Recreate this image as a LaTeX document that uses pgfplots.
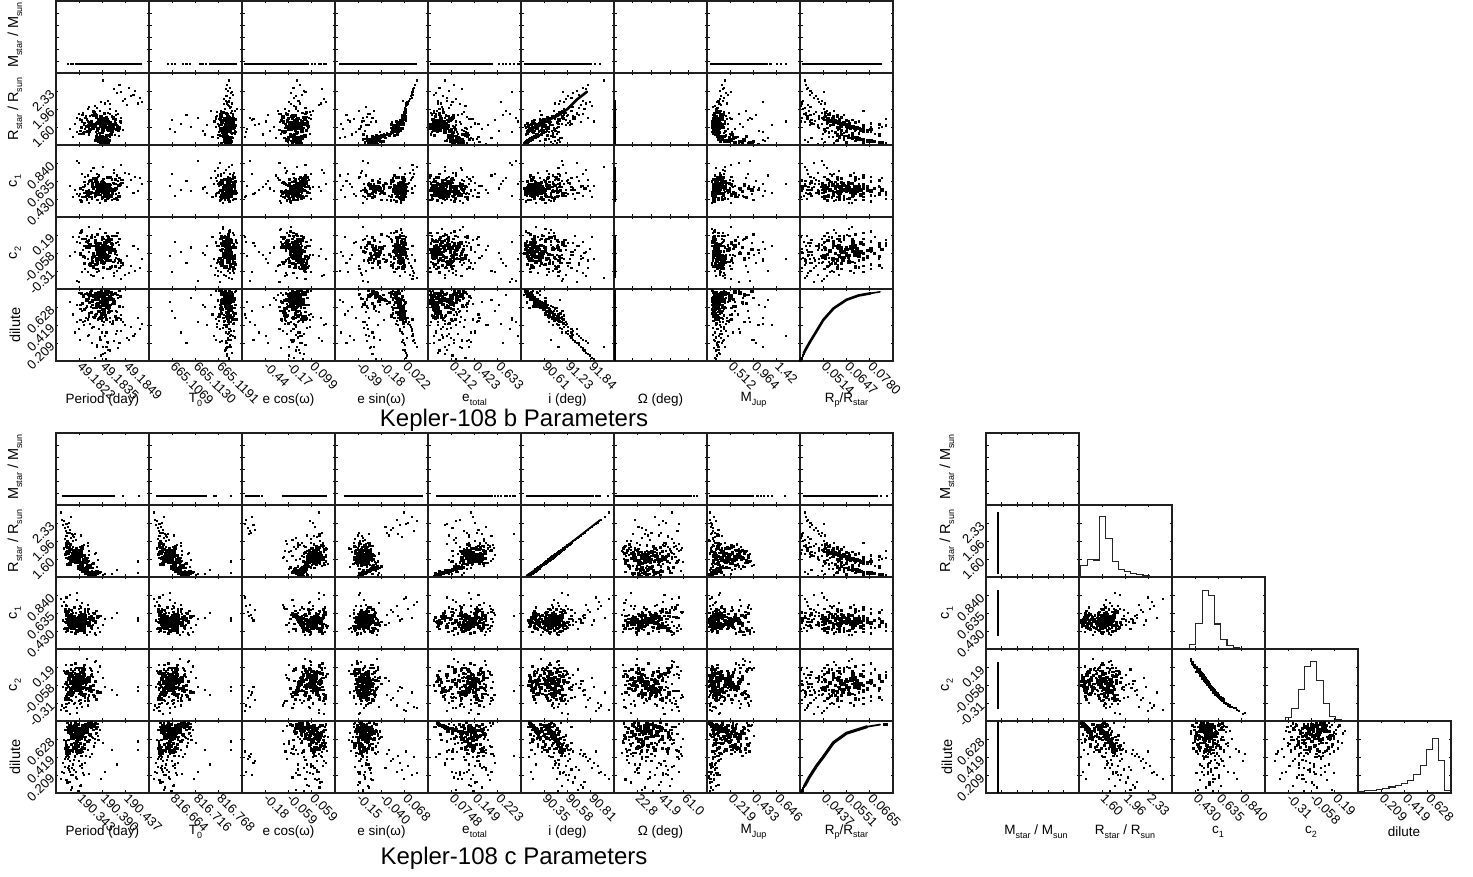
\documentclass[border=0pt]{standalone}
\usepackage{pgfplots}
\usepackage{pgfplotstable}
\usepackage{fontspec}
\setmainfont{Liberation Sans}
\pgfplotsset{compat=1.18}
\newcommand\sub[1]{\raisebox{-0.28em}{\fontsize{9}{9}\selectfont #1}}
% samples, in percent of each parameter's panel range
\pgfplotstableread{
R C1 C2 D Pb Tb Ecb Esb Etb Ib Mb Rp Pc Ecc Esc Etc Ic Oc Mc
21 38 52 91 50 85 57 65 6 9 9 65 21 77 29 46 27 33 20
23 34 60 88 45 83 55 66 9 12 11 59 19 80 26 44 29 27 16
25 41 47 84 55 87 58 67 5 14 8 53 24 74 31 50 31 40 26
27 37 55 82 48 86 60 68 12 17 10 50 17 78 33 42 33 22 22
29 44 44 80 53 84 56 69 8 19 12 47 26 82 28 52 35 45 30
26 32 65 86 42 88 54 67 14 15 7 56 22 72 30 47 32 30 14
24 39 51 89 58 82 59 66 4 12 13 61 25 76 34 49 30 36 28
28 36 57 78 51 85 62 68 10 18 9 44 20 84 27 53 34 52 24
31 42 46 76 47 87 53 70 7 22 11 42 18 79 32 45 37 34 33
33 35 58 74 56 83 57 71 11 25 8 40 23 75 25 48 39 26 20
30 46 40 79 44 86 61 69 16 20 10 46 27 81 36 51 36 42 18
22 33 62 92 36 84 50 65 13 10 12 68 16 73 30 43 28 48 27
20 38 54 93 60 85 64 64 18 8 9 72 28 77 24 55 26 28 12
27 43 45 83 49 89 55 68 5 16 14 52 21 83 29 41 33 38 31
25 31 66 87 54 81 58 67 15 13 6 57 15 78 33 54 31 55 23
23 40 49 90 40 86 52 66 11 11 10 63 24 70 27 46 29 24 19
29 37 55 81 62 84 60 69 3 19 11 49 19 85 31 50 35 46 35
32 40 50 72 52 88 56 70 8 24 9 38 22 76 35 39 38 31 25
35 45 42 69 46 85 59 72 13 27 13 35 26 80 26 44 41 40 16
26 35 59 85 33 83 49 67 17 15 8 54 13 74 28 49 32 19 21
24 42 47 88 50 87 62 66 9 12 7 59 30 79 23 57 30 50 29
28 39 53 77 57 82 54 68 6 17 12 43 17 82 37 47 34 35 34
30 34 61 75 43 86 58 69 19 21 10 41 25 71 30 42 36 29 10
22 36 56 94 55 84 53 65 7 10 8 76 20 77 32 52 28 43 22
34 38 53 66 49 85 57 71 10 26 9 32 23 84 29 46 40 37 27
37 41 48 63 53 87 60 73 14 30 11 29 19 78 31 40 43 25 32
40 36 56 60 48 84 55 74 8 34 10 27 27 75 33 48 46 44 20
27 47 38 84 39 86 51 68 21 16 15 53 16 81 28 36 33 33 38
25 29 69 86 59 83 63 67 12 14 9 56 29 76 26 44 31 47 15
31 38 52 80 45 85 56 70 6 23 7 47 21 73 34 51 37 21 24
6 37 54 94 50 84 58 42 30 7 22 76 32 62 30 14 12 33 6
9 42 46 90 47 86 55 46 26 12 16 63 28 60 36 24 15 42 9
4 33 60 96 53 82 60 40 33 6 30 85 35 64 28 11 10 26 4
11 39 52 88 51 87 57 48 24 14 13 59 26 63 40 30 17 37 12
7 45 42 92 48 85 62 38 36 9 40 68 38 59 33 18 13 47 7
13 35 57 86 54 83 53 50 22 17 11 56 24 65 44 33 19 30 14
5 40 50 95 46 88 56 44 28 6 35 80 40 61 29 12 11 20 5
8 31 64 91 52 85 59 36 35 10 26 65 30 66 35 20 14 50 8
12 48 38 83 49 84 64 47 25 15 18 52 27 57 42 35 18 39 11
3 38 55 97 56 86 54 41 38 5 48 88 42 62 27 10 9 35 3
10 36 56 89 44 83 61 43 31 12 24 61 33 64 38 26 16 28 10
6 43 45 93 50 81 58 39 27 8 19 72 36 60 32 16 12 44 6
}\Core
\pgfplotstableread{
R C1 C2 D Pb Tb Ecb Esb Etb Ib Mb Rp Pc Ecc Esc Etc Ic Oc Mc
19 30 66 94 33 80 47 61 10 6 8 76 14 70 24 38 25 26 11
24 47 38 86 62 92 66 71 3 16 16 56 32 87 38 58 30 45 37
33 28 72 68 38 77 44 66 22 30 6 34 20 74 22 56 39 18 9
36 52 32 62 64 83 68 75 6 40 10 29 12 88 36 36 42 52 41
16 42 46 90 29 89 58 60 26 7 12 63 34 69 28 60 22 15 30
30 26 74 84 55 78 51 74 16 14 19 53 26 85 41 40 36 58 6
27 50 34 66 35 93 63 62 8 26 5 32 11 72 20 50 33 30 44
40 33 62 70 60 85 43 76 13 44 14 36 22 90 34 46 46 10 24
21 48 36 78 44 76 69 70 24 22 9 44 29 68 26 34 27 39 7
26 24 78 92 66 90 55 63 2 8 17 68 16 83 39 62 32 62 39
38 44 44 56 31 81 61 76 18 36 7 24 24 76 23 54 44 23 14
18 35 60 72 50 79 45 62 27 24 13 38 33 88 32 42 24 48 33
32 55 30 88 58 91 70 68 11 13 11 59 10 71 40 53 38 34 19
43 30 68 64 42 84 49 75 4 46 18 30 28 80 21 60 49 42 28
23 29 70 76 68 87 59 72 21 27 6 42 18 70 36 35 29 12 42
29 51 33 96 37 78 65 60 15 11 15 85 31 90 30 58 35 56 10
35 36 58 58 54 93 42 70 25 40 9 26 14 78 27 48 41 29 36
14 45 42 74 47 76 67 64 7 28 20 40 36 74 42 38 20 64 21
25 22 80 94 27 86 52 66 28 5 8 76 21 86 24 45 31 37 31
34 40 50 82 63 80 63 76 9 21 12 50 25 68 38 62 40 21 8
41 53 30 74 40 90 57 72 19 38 16 40 13 83 33 52 47 50 26
20 27 72 68 56 83 46 69 13 33 7 34 30 72 22 43 26 32 43
28 58 24 92 34 77 68 64 2 10 14 68 19 89 35 36 34 66 15
37 33 62 52 61 91 50 73 23 45 10 20 27 77 29 59 43 14 38
17 39 52 86 46 88 60 62 17 13 18 56 15 75 41 47 23 47 12
31 49 36 72 30 79 54 74 5 30 5 38 35 82 25 40 37 26 23
22 26 74 58 65 85 64 70 29 36 12 26 22 66 31 57 28 57 45
44 37 54 66 52 78 47 75 12 42 8 32 11 85 37 44 50 35 6
26 43 44 78 39 92 71 63 20 23 17 44 32 79 23 61 32 19 29
15 31 64 96 59 81 56 67 3 5 9 85 24 71 34 33 21 41 17
39 54 28 78 43 86 66 74 26 28 15 44 17 88 28 55 45 60 34
24 23 78 62 53 76 48 60 10 35 6 29 30 74 40 50 30 24 11
33 46 40 90 69 90 58 72 15 12 11 63 13 81 26 39 39 49 40
19 35 58 82 36 83 43 65 23 19 19 50 26 69 36 59 25 31 25
28 30 66 70 57 89 62 71 7 32 8 36 20 86 21 46 34 54 8
46 42 46 60 41 80 69 76 16 41 13 27 15 77 33 42 52 16 32
22 52 32 88 60 87 51 62 25 12 7 59 34 90 27 53 28 38 19
36 25 74 76 33 77 60 73 4 24 16 42 23 72 38 37 42 61 36
17 47 38 64 48 91 45 60 19 34 10 31 12 80 30 60 23 27 13
30 38 52 94 64 84 67 69 12 7 14 76 28 84 24 44 36 44 44
42 28 70 80 28 78 54 75 27 22 6 47 18 68 35 56 48 11 22
25 55 28 74 55 92 63 66 9 29 18 40 31 87 41 35 31 52 10
35 32 64 86 45 81 49 71 21 14 9 56 14 75 22 49 41 33 27
20 44 42 60 67 88 57 64 5 37 12 27 25 81 31 62 26 67 41
27 34 60 98 38 75 70 68 14 4 5 92 21 70 37 41 33 22 16
38 48 36 68 51 90 44 74 24 34 15 34 16 89 28 52 44 46 30
23 37 56 84 62 79 59 70 2 16 11 54 33 73 33 38 29 14 7
32 29 68 62 35 86 65 61 18 39 8 29 10 83 26 58 38 58 35
13 41 48 82 49 83 52 58 30 19 13 50 37 78 39 46 19 40 24
29 45 40 70 58 77 61 73 11 31 17 36 19 76 24 43 35 29 12
9 35 56 86 46 84 60 34 32 10 28 56 34 56 30 20 15 36 7
5 44 42 92 55 86 49 52 24 8 14 68 44 62 26 8 11 22 10
12 27 72 80 50 80 66 40 42 14 42 47 28 68 46 36 18 58 4
7 50 34 94 42 88 57 46 20 7 18 76 41 54 34 16 13 44 15
15 38 52 78 58 83 52 30 37 22 11 44 25 60 50 30 21 16 6
3 31 64 98 48 78 63 36 28 4 34 92 38 70 28 10 9 50 2
10 47 38 84 52 90 45 54 34 15 24 52 30 58 40 26 16 30 12
6 24 76 88 44 85 58 50 18 10 50 59 47 66 32 22 12 62 5
14 42 46 96 56 82 68 44 40 17 20 85 32 52 44 34 20 38 16
4 36 58 82 47 87 54 32 26 6 38 50 36 64 27 13 10 27 3
8 53 30 90 51 81 61 48 44 11 12 63 43 57 36 18 14 52 9
11 29 68 76 54 89 50 42 22 13 30 42 26 69 42 28 17 24 14
2 40 50 92 49 84 64 38 36 3 44 68 40 60 25 6 8 42 4
13 33 60 86 43 79 56 53 30 18 16 56 29 63 48 37 19 34 18
7 46 40 74 57 86 47 35 24 9 26 40 45 55 31 14 13 60 8
}\Mid
\pgfplotstableread{
R C1 C2 D Pb Tb Ecb Esb Etb Ib Mb Rp Pc Ecc Esc Etc Ic Oc Mc
18 28 70 92 30 78 44 60 4 12 7 68 12 68 20 30 24 12 8
20 50 36 88 66 92 70 63 38 15 20 59 40 88 44 64 26 60 44
35 24 78 72 26 76 48 72 24 30 12 38 10 50 18 38 41 9 34
44 56 28 60 58 90 68 74 8 38 16 27 34 66 40 58 50 66 10
16 30 72 95 24 82 42 58 32 18 6 80 37 86 24 28 22 20 48
38 52 32 64 70 80 72 73 28 36 24 31 14 90 36 68 44 72 14
50 34 64 58 34 94 46 76 16 46 10 25 18 47 30 60 56 14 7
14 46 40 84 63 74 66 55 44 20 9 52 44 70 16 34 20 58 40
22 26 76 82 38 91 50 70 20 22 22 50 30 83 46 26 28 68 6
42 60 24 66 44 77 74 75 12 40 14 32 11 56 22 66 48 18 36
32 22 82 70 28 87 41 71 34 32 8 36 42 74 28 32 38 64 46
26 54 30 97 68 72 64 62 2 13 18 88 16 62 42 70 32 10 28
19 32 66 78 22 93 60 48 41 26 5 44 38 92 19 40 25 52 5
36 48 38 56 61 75 43 73 26 42 21 24 24 52 34 62 42 8 42
47 42 48 62 41 89 76 75 6 44 12 29 13 87 26 56 53 56 12
15 20 86 86 35 79 52 30 37 16 25 56 33 67 45 28 21 24 38
28 58 26 68 65 90 67 33 30 34 8 34 20 45 38 52 34 62 44
40 28 70 74 32 76 45 72 22 36 16 40 8 80 15 64 46 16 16
24 44 42 96 56 92 71 64 40 11 10 85 45 58 20 22 30 70 32
33 64 20 76 37 71 48 29 18 28 19 42 28 72 47 60 39 11 8
17 24 74 80 60 81 59 56 43 22 7 47 36 89 37 36 23 48 50
45 38 55 55 29 88 65 74 3 48 23 23 15 60 25 70 51 28 26
21 52 34 75 72 78 40 61 36 24 13 41 31 84 43 24 27 74 18
37 26 68 98 49 93 74 72 5 20 6 92 12 70 21 66 43 42 43
29 68 18 62 40 74 46 70 35 40 9 29 22 54 31 27 35 13 35
13 34 62 77 67 85 55 34 28 32 28 43 39 77 48 38 19 58 22
39 30 66 59 54 72 69 74 25 44 17 26 17 91 17 57 45 67 9
23 56 28 94 31 90 62 26 42 9 11 76 35 48 39 67 29 21 47
48 46 44 70 64 77 50 76 9 35 15 36 10 64 35 44 54 54 11
16 40 48 57 26 92 73 52 39 38 24 24 29 86 46 31 22 35 30
34 20 84 83 47 79 42 71 15 26 5 52 43 73 23 61 40 62 41
12 36 58 69 58 86 68 47 33 34 12 35 25 50 41 29 18 17 36
41 50 36 52 36 73 56 73 21 49 20 20 12 79 29 71 47 73 13
27 62 22 87 62 91 47 28 27 18 14 58 34 44 33 55 33 46 45
19 44 44 65 43 75 63 68 31 30 27 31 41 88 44 48 25 30 24
26 36 55 50 50 84 57 67 10 40 9 19 20 76 30 48 32 34 8
30 42 44 45 46 86 55 70 14 44 11 15 24 80 26 52 36 40 12
35 30 68 40 54 82 60 72 8 48 8 12 18 74 33 44 41 28 5
28 48 36 35 52 87 62 36 20 52 13 10 28 66 36 58 34 46 10
40 38 52 30 48 85 52 73 28 56 7 8 15 82 24 42 46 22 4
45 34 60 25 56 83 64 74 6 60 10 6 30 62 31 64 51 52 14
32 44 42 20 44 88 50 38 34 64 12 5 22 78 38 36 38 36 7
50 40 50 15 58 81 58 75 12 68 9 3 12 84 27 50 56 18 3
38 52 30 10 50 84 66 40 18 72 14 2 26 72 35 46 44 60 9
55 28 72 5 42 86 56 76 40 76 8 1 16 58 30 30 61 30 6
24 36 58 52 60 90 46 65 18 38 10 20 32 85 22 54 30 44 11
34 46 40 46 38 79 70 31 24 42 6 16 19 68 34 40 40 14 13
42 32 64 38 64 85 48 73 32 50 16 11 25 87 29 56 48 64 5
48 42 48 33 47 92 60 42 16 54 9 9 14 60 37 62 54 24 8
36 38 54 27 55 76 54 72 46 58 12 7 35 76 26 34 42 56 4
52 50 34 22 44 87 68 75 22 62 11 5 21 54 32 28 58 38 2
44 30 66 18 66 83 42 37 36 66 7 4 11 80 40 66 50 12 7
58 40 52 12 52 89 62 76 10 70 13 2 27 70 24 44 64 48 12
60 36 56 8 48 84 50 77 26 74 10 2 17 83 36 58 66 33 4
33 44 42 3 53 86 65 44 30 78 9 1 23 66 30 48 39 42 3
46 34 60 48 40 73 73 74 38 46 18 17 13 48 28 20 52 70 15
31 48 36 42 70 91 44 70 50 50 15 13 31 90 33 72 37 16 9
53 38 52 36 35 88 58 33 15 55 6 11 9 74 21 60 59 62 6
39 26 74 28 62 78 55 34 42 58 8 7 29 58 38 38 45 26 11
62 44 44 16 56 82 61 73 20 66 12 3 15 86 25 52 68 50 5
29 34 62 56 49 85 47 66 54 39 22 23 26 64 43 42 35 20 13
57 42 46 54 58 80 52 76 34 41 14 22 11 77 29 68 63 58 16
37 56 28 58 45 90 66 72 48 36 26 25 24 46 34 26 43 35 18
62 48 36 55 72 86 60 79 10 42 17 23 12 9 56 42 68 40 8
68 52 32 48 80 83 58 81 16 50 15 17 9 6 62 26 74 30 6
72 40 48 42 65 88 52 82 8 56 20 13 7 12 70 18 78 48 5
76 56 26 38 85 85 66 84 22 60 14 11 14 76 78 50 82 56 4
80 60 22 30 78 87 55 85 12 66 18 8 6 4 66 34 86 22 3
84 44 40 25 68 84 62 86 28 72 16 6 16 10 82 48 90 44 7
90 70 16 20 50 86 59 88 18 89 19 5 5 82 74 46 94 62 3
58 36 56 60 88 84 85 78 14 36 21 27 18 83 58 22 64 36 10
64 62 20 50 74 80 88 80 30 48 14 19 10 8 85 38 70 68 6
70 34 60 35 83 90 64 83 6 62 22 10 13 78 54 62 76 26 4
78 66 18 28 62 82 86 84 36 70 17 7 8 73 88 30 84 52 9
66 54 30 45 90 87 56 82 20 54 18 15 15 14 60 54 72 34 12
56 42 46 32 76 85 82 77 24 64 15 8 19 80 72 44 62 58 8
74 72 14 58 70 89 68 83 90 45 25 25 11 3 76 20 80 70 5
60 46 42 52 92 86 90 78 78 46 60 20 20 7 67 92 66 20 11
22 44 46 82 15 22 5 8 58 18 30 50 20 80 30 50 28 34 22
35 60 24 70 28 24 10 14 72 30 44 36 25 76 28 46 41 44 16
18 30 66 60 32 28 4 22 90 40 60 27 16 84 33 40 24 30 28
30 38 52 40 20 34 18 6 50 54 35 12 28 70 36 56 36 22 8
42 50 36 25 38 40 28 12 80 62 52 6 18 60 31 34 48 58 11
25 36 58 88 35 45 34 28 46 26 38 59 30 78 24 60 31 40 38
38 78 12 55 22 52 8 30 94 44 46 23 22 82 27 44 44 18 14
15 42 48 75 44 60 22 18 42 34 28 41 26 66 40 36 21 50 34
28 34 60 50 30 62 14 34 64 48 70 19 14 86 34 52 34 36 6
48 54 32 92 40 66 38 25 84 20 42 68 34 74 20 30 54 64 19
12 28 72 65 18 68 3 10 54 36 33 31 24 56 26 42 18 26 30
33 46 42 35 34 70 25 16 96 52 85 10 17 77 38 62 39 46 9
20 40 50 78 26 58 30 32 76 28 56 44 32 72 29 48 26 12 25
36 32 64 30 25 72 12 20 44 56 48 8 21 80 32 68 42 70 5
10 58 26 85 46 74 36 5 68 42 65 54 27 64 36 22 16 32 27
44 76 10 45 24 76 40 35 88 60 34 15 15 88 25 54 50 54 13
3 34 60 70 52 85 60 44 42 38 30 36 50 63 46 36 9 20 18
5 44 44 60 46 84 54 36 55 42 45 27 60 58 40 22 11 44 25
8 30 68 80 55 87 48 30 48 26 38 47 45 64 36 30 14 60 12
2 38 54 50 50 83 58 46 62 34 55 19 36 66 30 8 8 30 6
10 50 36 40 49 86 62 40 46 44 28 12 65 60 34 18 16 50 3
6 36 56 75 53 82 52 34 38 20 62 41 42 62 47 38 12 26 15
4 42 48 30 47 88 56 48 36 32 50 8 52 70 26 25 10 38 2
9 28 70 55 51 85 65 32 52 30 40 23 38 55 44 12 15 72 8
7 46 40 20 54 84 50 42 44 40 60 5 48 68 32 32 13 12 4
22 40 48 60 50 84 57 67 10 30 10 27 88 78 30 48 28 35 20
6 44 42 72 52 86 55 42 32 36 18 38 88 64 32 20 12 30 9
}\Halo
\pgfplotsset{
 pan/.style={scale only axis,width=93pt,height=72pt,anchor=south west,
  xmin=0,xmax=100,ymin=0,ymax=100,
  xtick={25,50,75},ytick={25,50,75},xticklabels={},yticklabels={},
  tick align=inside,major tick length=2.5pt,
  tick style={black,line width=.6pt},
  axis line style={black!88,line width=1.1pt},
  tick label style={font=\fontsize{13}{13}\selectfont},
  x tick label style={rotate=-45,anchor=west,inner sep=0pt,xshift=2.5pt,yshift=-1.5pt},
  y tick label style={rotate=45,anchor=east,inner sep=0pt,xshift=-3pt,yshift=2pt}},
 halo/.style={only marks,mark=square*,mark size=.55pt,black,mark options={draw=none,fill=black}},
 mid/.style={only marks,mark=square*,mark size=.85pt,black,mark options={draw=none,fill=black}},
 core/.style={only marks,mark=square*,mark size=1.25pt,black,mark options={draw=none,fill=black}},
 seg/.style={black,no marks,line width=2pt},
 curve/.style={black,no marks,line width=#1,line cap=round},
 hist/.style={black!85,no marks,const plot,line width=1.05pt},
 lR/.style={yticklabels={1.60,1.96,2.33}},
 lA/.style={yticklabels={0.430,0.635,0.840}},
 lB/.style={yticklabels={-0.31,-0.058,0.19}},
 lD/.style={yticklabels={0.209,0.419,0.628}},
 six/.style={ytick={16.7,33.3,50,66.7,83.3}},
 xsix/.style={xtick={16.7,33.3,50,66.7,83.3}},
 xfive/.style={xtick={20,40,60,80}},
 xl/.style={xticklabels={#1}},
}
\newcommand{\PAN}[5]{\begin{axis}[pan,at={(#1pt,877pt-#2pt)},#5]
 \addplot[halo] table[x=#3,y=#4]{\Halo};
 \addplot[mid] table[x=#3,y=#4]{\Mid};
 \addplot[core] table[x=#3,y=#4]{\Core};
\end{axis}}
\newcommand{\PANX}[6]{\begin{axis}[pan,at={(#1pt,877pt-#2pt)},#5]
 \addplot[halo] table[x=#3,y=#4]{\Halo};
 \addplot[mid] table[x=#3,y=#4]{\Mid};
 \addplot[core] table[x=#3,y=#4]{\Core};
 #6
\end{axis}}
\newcommand{\TOPP}[5]{\begin{axis}[pan,six,at={(#1pt,877pt-#2pt)}]
 \addplot[seg] coordinates {(#3,13) (#4,13)};
 \addplot[halo] coordinates {#5};
\end{axis}}
\newcommand{\VERT}[6]{\begin{axis}[pan,at={(#1pt,877pt-#2pt)},#6]
 \addplot[seg] coordinates {(#3,#4) (#3,#5)};
\end{axis}}
\newcommand{\HIST}[4]{\begin{axis}[pan,at={(#1pt,877pt-#2pt)},#3]
 \addplot[hist] coordinates {#4};
\end{axis}}
\begin{document}
\begin{tikzpicture}
\useasboundingbox (0,0) rectangle (1473pt,877pt);
% ---- Kepler-108 b
\TOPP{56}{73}{20}{92}{(13,13) (16,13) (18,13)}
\TOPP{149}{73}{65}{95}{(20,13) (24,13) (28,13) (36,13) (40,13) (44,13) (55,13) (58,13) (61,13)}
\TOPP{242}{73}{2}{72}{(75,13) (78,13) (82,13) (85,13) (88,13) (90,13)}
\TOPP{335}{73}{5}{88}{(5,13)}
\TOPP{428}{73}{2}{70}{(76,13) (80,13) (84,13) (88,13) (92,13) (96,13) (99,13)}
\TOPP{521}{73}{3}{76}{(79,13) (85,13)}
\begin{axis}[pan,six,xfive,at={(614pt,877pt-73pt)}]\end{axis}
\TOPP{707}{73}{3}{66}{(68,13) (75,13) (79,13) (85,13)}
\TOPP{800}{73}{2}{87}{(87,13)}
\PAN{56}{145}{Pb}{R}{lR}
\foreach \L/\X in {149/Tb,242/Ecb,335/Esb,428/Etb,707/Mb,800/Rp}{\PAN{\L}{145}{\X}{R}{}}
\PANX{521}{145}{Ib}{R}{}{\addplot[curve=2.6pt] coordinates {(10,21) (20,27) (30,35) (40,41) (50,50) (60,63) (71,74)};}
\VERT{614}{145}{1.4}{2}{62}{xfive}
\PAN{56}{217}{Pb}{C1}{lA}
\foreach \L/\X in {149/Tb,242/Ecb,335/Esb,428/Etb,521/Ib,707/Mb,800/Rp}{\PAN{\L}{217}{\X}{C1}{}}
\VERT{614}{217}{1.4}{21}{70}{xfive}
\PAN{56}{289}{Pb}{C2}{lB}
\foreach \L/\X in {149/Tb,242/Ecb,335/Esb,428/Etb,521/Ib,707/Mb,800/Rp}{\PAN{\L}{289}{\X}{C2}{}}
\VERT{614}{289}{1.4}{15}{75}{xfive}
\PAN{56}{361}{Pb}{D}{lD,xl={49.1822,49.1835,49.1849}}
\PAN{149}{361}{Tb}{D}{xl={665.1069,665.1130,665.1191}}
\PAN{242}{361}{Ecb}{D}{xl={-0.44,-0.17,0.099}}
\PAN{335}{361}{Esb}{D}{xl={-0.39,-0.18,0.022}}
\PAN{428}{361}{Etb}{D}{xl={0.212,0.423,0.633}}
\PAN{521}{361}{Ib}{D}{xl={90.61,91.23,91.84}}
\VERT{614}{361}{1.4}{0}{98}{xfive}
\PAN{707}{361}{Mb}{D}{xl={0.512,0.964,1.42}}
\begin{axis}[pan,at={(800pt,877pt-361pt)},xl={0.0514,0.0647,0.0780}]
 \addplot[curve=2.6pt] coordinates {(4,11) (10,25) (18,42) (25,57) (36,73) (50,85) (63,91) (76,94)};
 \addplot[curve=1.6pt] coordinates {(76,94) (86,96)};
 \addplot[mid] coordinates {(.5,1) (1.5,4) (3,8) (4,11)};
\end{axis}
% ---- Kepler-108 c
\TOPP{56}{505}{6}{63}{(72,13) (89,13)}
\TOPP{149}{505}{8}{62}{(70,13) (72,13) (88,13)}
\TOPP{242}{505}{43}{91}{(4,13) (6,13) (8,13) (10,13) (12,13) (14,13) (16,13) (18,13) (21,13)}
\TOPP{335}{505}{10}{93}{(93,13)}
\TOPP{428}{505}{9}{70}{(72,13) (75,13) (78,13) (82,13) (85,13) (88,13) (91,13) (93,13)}
\TOPP{521}{505}{5}{78}{(80,13) (83,13) (85,13) (93,13)}
\TOPP{614}{505}{1}{84}{(86,13) (89,13)}
\TOPP{707}{505}{2}{50}{(54,13) (58,13) (61,13) (65,13) (70,13) (84,13)}
\TOPP{800}{505}{3}{84}{(87,13) (93,13)}
\PAN{56}{577}{Pc}{R}{lR}
\foreach \L/\X in {149/Pc,242/Ecc,335/Esc,428/Etc,614/Oc,707/Mc,800/Rp}{\PAN{\L}{577}{\X}{R}{}}
\PANX{521}{577}{Ic}{R}{}{\addplot[curve=1.8pt] coordinates {(6,2) (20,14) (35,29) (50,44) (70,64) (85,79)};}
\PAN{56}{649}{Pc}{C1}{lA}
\foreach \L/\X in {149/Pc,242/Ecc,335/Esc,428/Etc,521/Ic,614/Oc,707/Mc,800/Rp}{\PAN{\L}{649}{\X}{C1}{}}
\PAN{56}{721}{Pc}{C2}{lB}
\foreach \L/\X in {149/Pc,242/Ecc,335/Esc,428/Etc,521/Ic,614/Oc,707/Mc,800/Rp}{\PAN{\L}{721}{\X}{C2}{}}
\PAN{56}{793}{Pc}{D}{lD,xl={190.343,190.390,190.437}}
\PAN{149}{793}{Pc}{D}{xl={816.664,816.716,816.768}}
\PAN{242}{793}{Ecc}{D}{xl={-0.18,-0.059,0.059}}
\PAN{335}{793}{Esc}{D}{xl={-0.15,-0.040,0.068}}
\PAN{428}{793}{Etc}{D}{xl={0.0748,0.149,0.223}}
\PAN{521}{793}{Ic}{D}{xl={90.35,90.58,90.81}}
\PAN{614}{793}{Oc}{D}{xl={22.8,41.9,61.0}}
\PAN{707}{793}{Mc}{D}{xl={0.219,0.433,0.646}}
\begin{axis}[pan,at={(800pt,877pt-793pt)},xl={0.0437,0.0551,0.0665}]
 \addplot[curve=3pt] coordinates {(5,10) (10,22) (18,38) (25,50) (36,70) (50,83) (72,92)};
 \addplot[curve=1.8pt] coordinates {(72,92) (86,95)};
 \addplot[mid] coordinates {(1,2) (2,4) (3,7) (4,9) (90,96) (93,96)};
\end{axis}
% ---- stellar triangle
\begin{axis}[pan,six,xsix,at={(986pt,877pt-505pt)}]\end{axis}
\VERT{986}{577}{13}{4}{90}{xsix,lR}
\HIST{1079}{577}{}{(0,0) (2.1,15.7) (8.8,24) (15.4,23.6) (22.1,83.8) (28.8,53.2) (35.5,21.3) (42.1,10.2) (48.8,7.4) (55.5,5.1) (62.1,3.2) (68.8,1.9) (75.5,.9) (82.2,.4) (88.8,.2) (100,.2)}
\VERT{986}{649}{13}{18}{82}{xsix,lA}
\PAN{1079}{649}{R}{C1}{}
\HIST{1172}{649}{}{(0,0) (12.2,1) (18.6,6) (25.4,36) (32.3,81.5) (39,74.5) (45.9,34.7) (52.3,13) (59.1,5) (66,2) (73,1) (80,.5) (100,.5)}
\VERT{986}{721}{13}{16}{82}{xsix,lB}
\PAN{1079}{721}{R}{C2}{}
\PAN{1172}{721}{C1}{C2}{}
\HIST{1265}{721}{}{(0,0) (15.4,1) (22.1,5) (28.9,17) (35.7,44) (42.5,76) (49.3,83) (55.7,56.5) (62.5,24.5) (69.3,6.5) (76,1.4) (82.5,.3) (100,.3)}
\VERT{986}{793}{13}{0}{98}{xsix,lD}
\PAN{1079}{793}{R}{D}{xl={1.60,1.96,2.33}}
\PAN{1172}{793}{C1}{D}{xl={0.430,0.635,0.840}}
\PAN{1265}{793}{C2}{D}{xl={-0.31,-0.058,0.19}}
\HIST{1358}{793}{xl={0.209,0.419,0.628}}{(0,2.3) (6.67,3.2) (13.3,4) (20,5) (26.7,6.5) (33.3,8.3) (40,10) (46.7,13) (53.3,17) (60,25.5) (66.7,38.4) (73.3,60) (80,75.5) (86.7,45) (93.3,4) (100,4)}
% ---- text
\def\fs{\fontsize{13.5}{13.5}\selectfont}
\def\fy{\fontsize{14.5}{14.5}\selectfont}
\def\Ms{M\sub{star} / M\sub{sun}}
\def\Rs{R\sub{star} / R\sub{sun}}
\foreach \X/\Top in {15/35,15/467,947/467}{\node[rotate=90,font=\fy] at (\X pt,877pt-\Top pt) {\Ms};}
\foreach \X/\Top in {15/109,15/541,947/541}{\node[rotate=90,font=\fy] at (\X pt,877pt-\Top pt) {\Rs};}
\foreach \X/\Top in {15/181,15/613,947/613}{\node[rotate=90,font=\fy] at (\X pt,877pt-\Top pt) {c\sub{1}};}
\foreach \X/\Top in {15/253,15/685,947/685}{\node[rotate=90,font=\fy] at (\X pt,877pt-\Top pt) {c\sub{2}};}
\foreach \X/\Top in {15/325,15/757,947/757}{\node[rotate=90,font=\fy] at (\X pt,877pt-\Top pt) {dilute};}
\foreach \Y in {400,832}{
 \node[font=\fs] at (102.5pt,877pt-\Y pt) {Period (day)};
 \node[font=\fs] at (195.5pt,877pt-\Y pt) {T\sub{0}};
 \node[font=\fs] at (288.5pt,877pt-\Y pt) {e cos(ω)};
 \node[font=\fs] at (381.5pt,877pt-\Y pt) {e sin(ω)};
 \node[font=\fs] at (474.5pt,877pt-\Y pt) {e\sub{total}};
 \node[font=\fs] at (567.5pt,877pt-\Y pt) {i (deg)};
 \node[font=\fs] at (660.5pt,877pt-\Y pt) {Ω (deg)};
 \node[font=\fs] at (753.5pt,877pt-\Y pt) {M\sub{Jup}};
 \node[font=\fs] at (846.5pt,877pt-\Y pt) {R\sub{p}/R\sub{star}};
}
\node[font=\fs] at (1036pt,877pt-832pt) {\Ms};
\node[font=\fs] at (1125pt,877pt-832pt) {\Rs};
\node[font=\fs] at (1218pt,877pt-832pt) {c\sub{1}};
\node[font=\fs] at (1311pt,877pt-832pt) {c\sub{2}};
\node[font=\fs] at (1404pt,877pt-832pt) {dilute};
\node[font=\fontsize{24}{24}\selectfont] at (514pt,877pt-420pt) {Kepler-108 b Parameters};
\node[font=\fontsize{24}{24}\selectfont] at (514pt,877pt-858pt) {Kepler-108 c Parameters};
\end{tikzpicture}
\end{document}
